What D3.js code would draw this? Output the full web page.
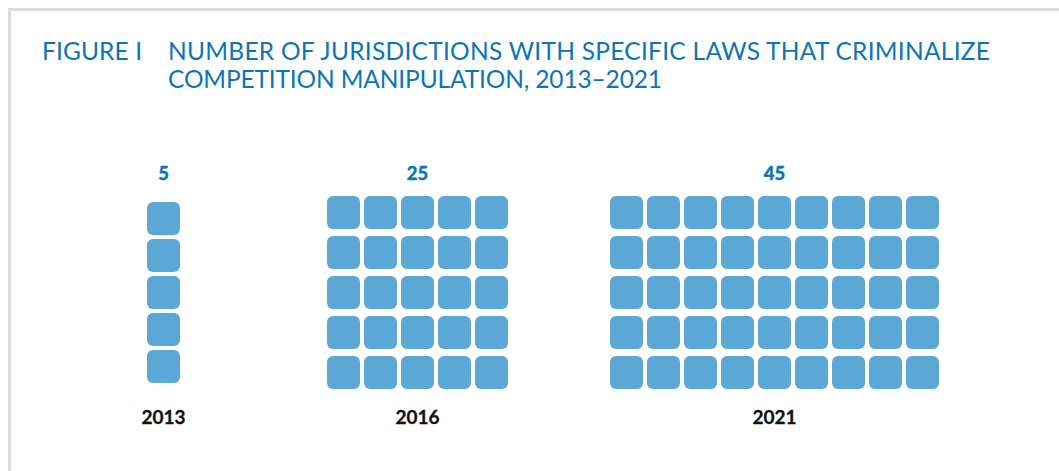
<!DOCTYPE html>
<html>
<head>
<meta charset="utf-8">
<script src="https://cdn.jsdelivr.net/npm/d3@7"></script>
<style>
  body { margin: 0; background: #fff; }
  svg { display: block; }
</style>
</head>
<body>
<script>
// data
var years = ["2013", "2016", "2021"];
var counts = [5, 25, 45];
var gridCols = [1, 5, 9];

var titleLines = [
  "NUMBER OF JURISDICTIONS WITH SPECIFIC LAWS THAT CRIMINALIZE",
  "COMPETITION MANIPULATION, 2013\u20132021"
];

// layout
var width = 1059, height = 471;
var groupCenters = [163.5, 417.5, 774.5];
var cell = 33, gapX = 4;
var fill = "#5ba8d6", blue = "#0e74b8";

var svg = d3.select("body").append("svg")
    .attr("width", width)
    .attr("height", height);

// frame
svg.append("path")
    .attr("d", "M9.5," + height + "V9.5H" + width)
    .attr("fill", "none")
    .attr("stroke", "#dcdcdc")
    .attr("stroke-width", 3);

// title
function titleText(x, y, len, s) {
  svg.append("text")
      .attr("x", x)
      .attr("y", y)
      .attr("fill", blue)
      .style("font-family", "Lato")
      .style("font-size", "24.5px")
      .attr("textLength", len)
      .attr("lengthAdjust", "spacing")
      .text(s);
}
titleText(42, 60, 100, "FIGURE I");
titleText(168, 60, 822, titleLines[0]);
titleText(168, 88, 494, titleLines[1]);

var groups = years.map(function(y, i) {
  return {year: y, count: counts[i], cols: gridCols[i], rows: counts[i] / gridCols[i], cx: groupCenters[i]};
});

groups.forEach(function(g) {
  var gw = g.cols * (cell + gapX) - gapX;
  var x = d3.scaleBand()
      .domain(d3.range(g.cols))
      .range([g.cx - gw / 2, g.cx + gw / 2])
      .paddingInner(g.cols === 1 ? 0 : gapX / (cell + gapX));

  // single column is packed tighter than the wide grids
  var gapY = g.cols === 1 ? 4 : 7;
  var gh = g.rows * (cell + gapY) - gapY;
  var cy = 292.5;
  var y = d3.scaleBand()
      .domain(d3.range(g.rows))
      .range([cy - gh / 2, cy + gh / 2])
      .paddingInner(gapY / (cell + gapY));

  svg.append("g").selectAll("rect")
      .data(d3.range(g.count))
    .enter().append("rect")
      .attr("x", function(d) { return x(d % g.cols); })
      .attr("y", function(d) { return y(Math.floor(d / g.cols)); })
      .attr("width", x.bandwidth())
      .attr("height", y.bandwidth())
      .attr("rx", 6)
      .attr("fill", fill);

  svg.append("text")
      .attr("x", g.cx)
      .attr("y", 180)
      .attr("text-anchor", "middle")
      .attr("fill", blue)
      .attr("stroke", blue)
      .attr("stroke-width", 0.5)
      .style("font-family", "Lato")
      .style("font-weight", "bold")
      .style("font-size", "18.5px")
      .text(g.count);

  svg.append("text")
      .attr("x", g.cx)
      .attr("y", 424)
      .attr("text-anchor", "middle")
      .attr("fill", "#111")
      .attr("stroke", "#111")
      .attr("stroke-width", 0.3)
      .style("font-family", "Lato")
      .style("font-weight", "bold")
      .style("font-size", "19px")
      .text(g.year);
});
</script>
</body>
</html>
